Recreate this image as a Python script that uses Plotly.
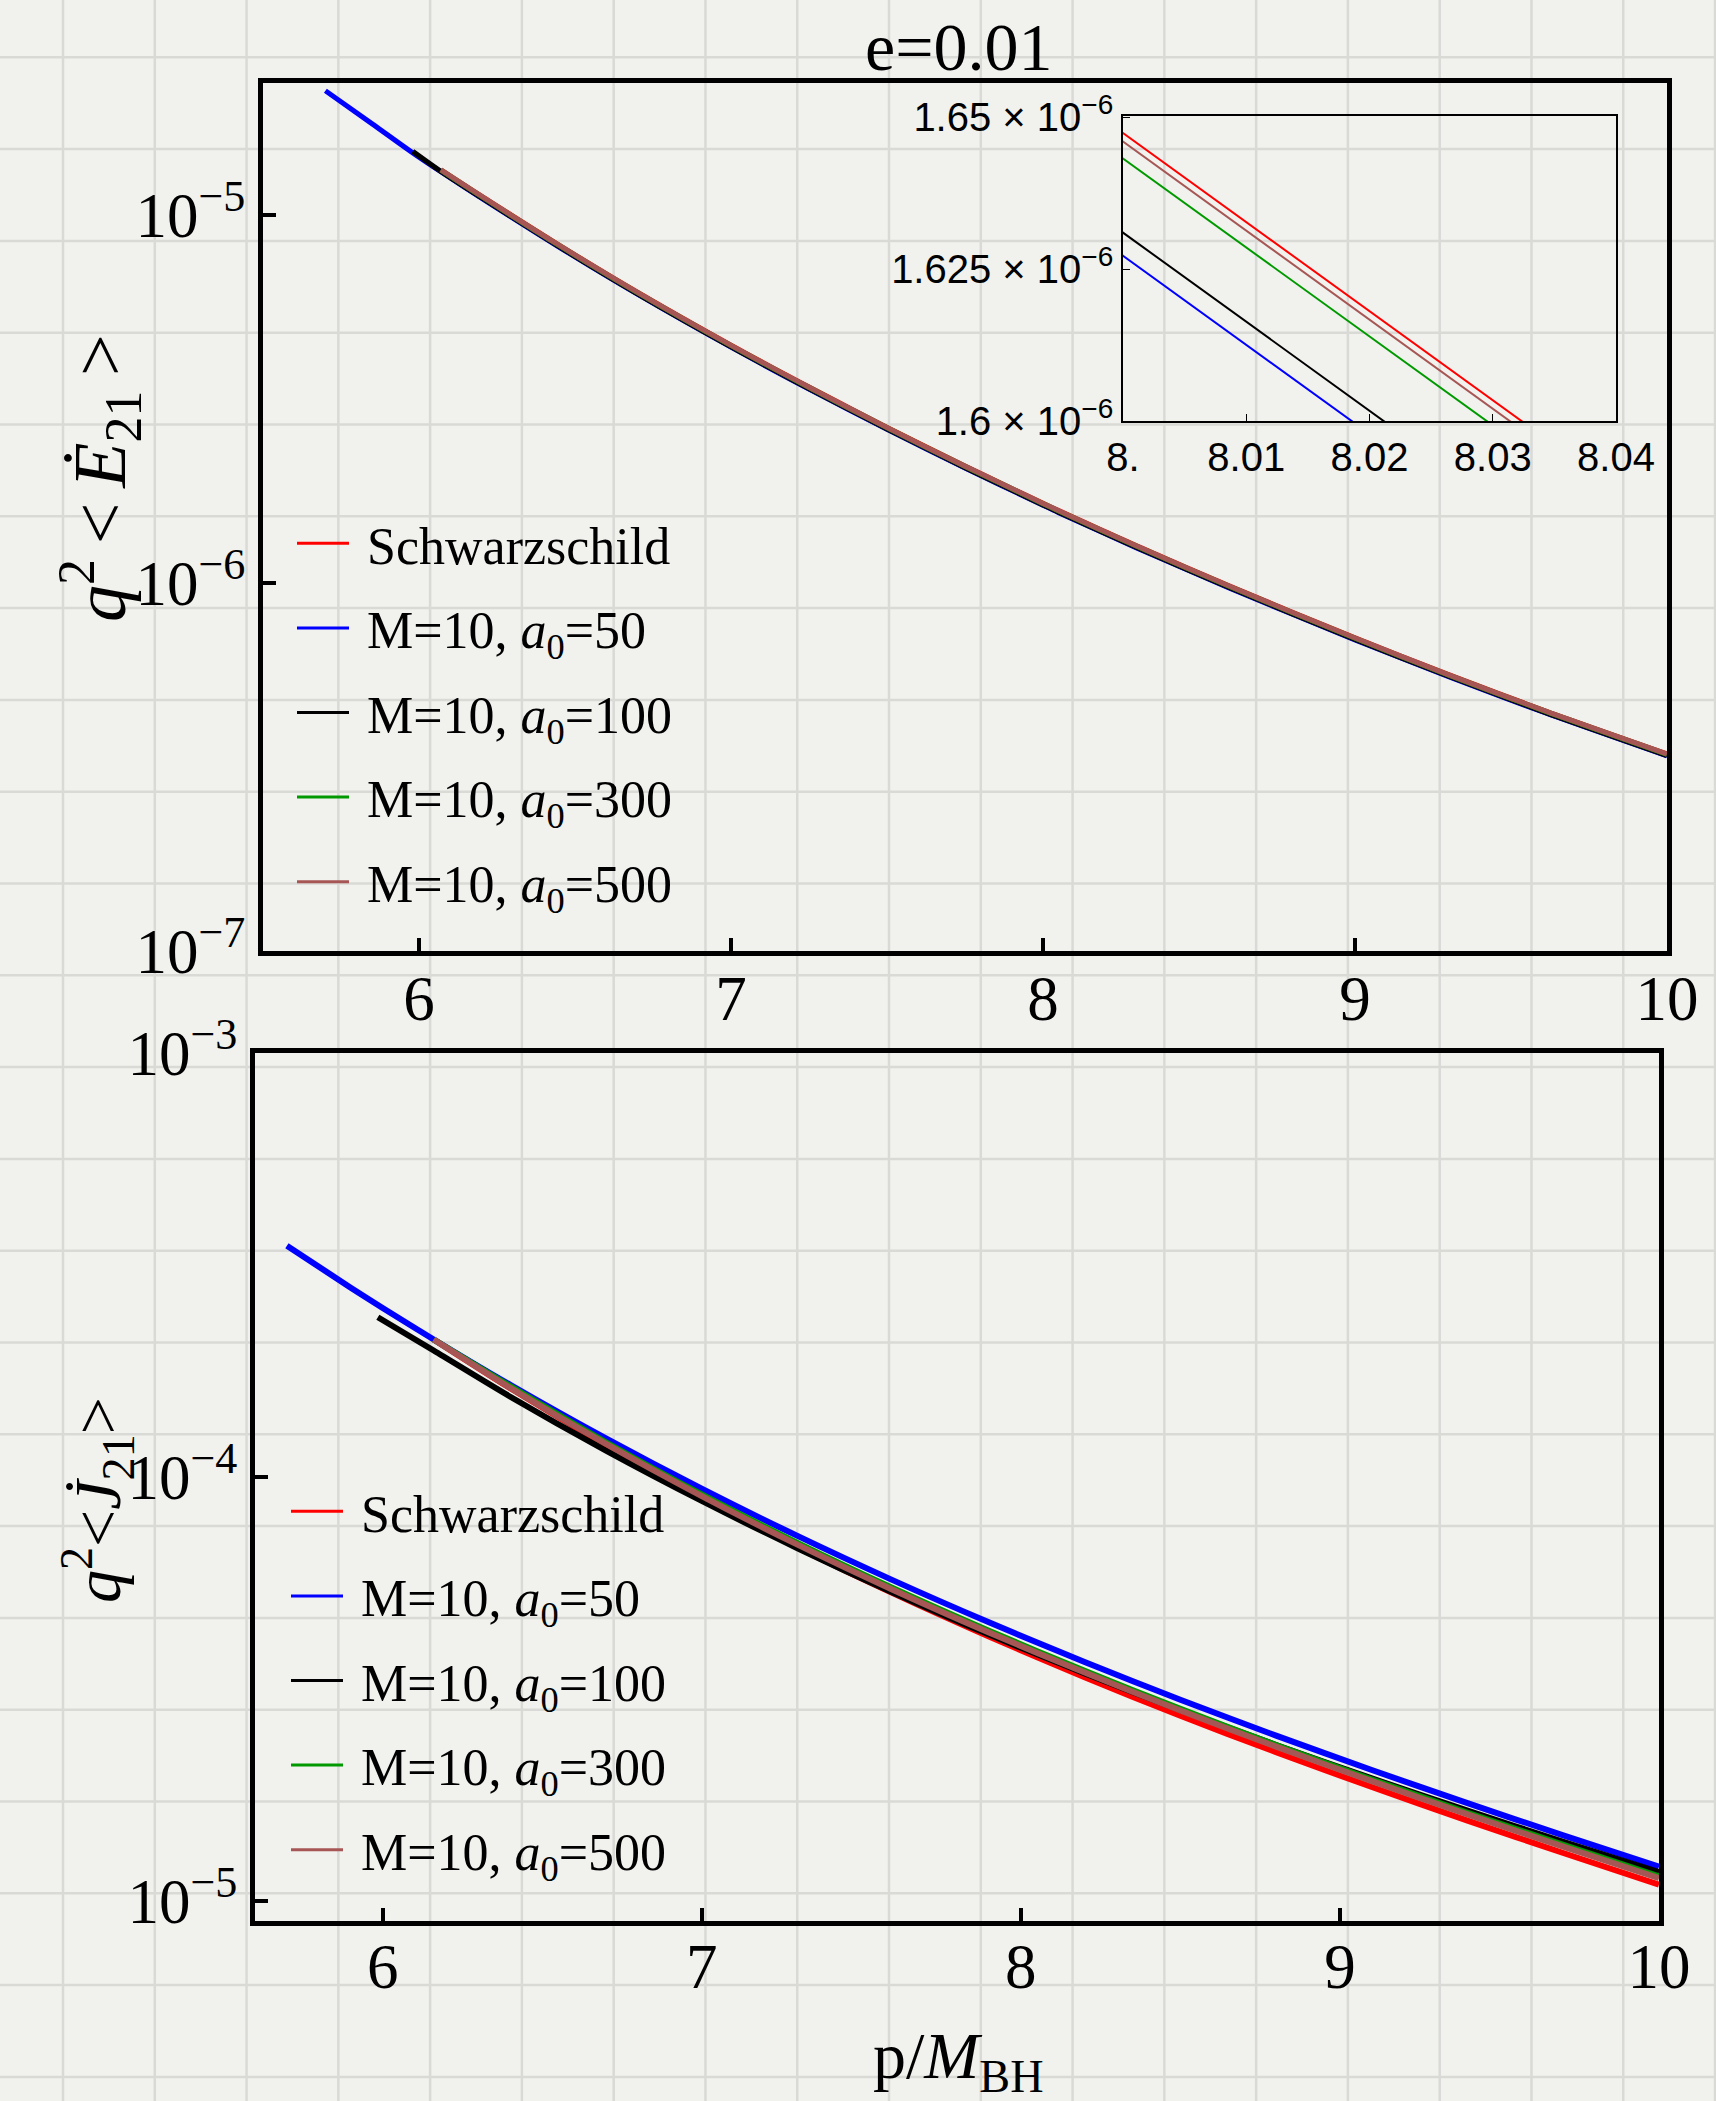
import plotly.graph_objects as go

W, H = 1716, 2101

# ---------------- data: top panel  q^2 <E_21> ----------------
P_TOP_BLUE = [5.70, 5.85, 5.98, 6.07, 6.2, 6.45, 6.7, 7.0, 7.25, 7.5, 7.75, 8.0, 8.05, 8.3, 8.6, 9.0, 9.3, 9.6, 10.0]
P_TOP_BLACK = [5.98, 6.07, 6.2, 6.45, 6.7, 7.0, 7.25, 7.5, 7.75, 8.0, 8.05, 8.3, 8.6, 9.0, 9.3, 9.6, 10.0]
P_TOP_REST = [6.07, 6.2, 6.45, 6.7, 7.0, 7.25, 7.5, 7.75, 8.0, 8.05, 8.3, 8.6, 9.0, 9.3, 9.6, 10.0]

E_SCHW = [1.3278e-5, 1.1262e-5, 8.277e-6, 6.172e-6, 4.430e-6, 3.409e-6, 2.649e-6, 2.080e-6,
          1.6474e-6, 1.5741e-6, 1.2618e-6, 9.793e-7, 7.095e-7, 5.636e-7, 4.524e-7, 3.432e-7]
E_A50 = [2.178e-5, 1.770e-5, 1.476e-5, 1.3116e-5, 1.1126e-5, 8.176e-6, 6.097e-6, 4.376e-6, 3.367e-6,
         2.617e-6, 2.055e-6, 1.6272e-6, 1.5539e-6, 1.2464e-6, 9.673e-7, 7.008e-7, 5.567e-7, 4.469e-7, 3.390e-7]
E_A100 = [1.490e-5, 1.3145e-5, 1.1150e-5, 8.194e-6, 6.110e-6, 4.386e-6, 3.375e-6, 2.623e-6, 2.059e-6,
          1.6310e-6, 1.5577e-6, 1.2492e-6, 9.695e-7, 7.024e-7, 5.580e-7, 4.479e-7, 3.398e-7]
E_A300 = [1.3245e-5, 1.1235e-5, 8.256e-6, 6.156e-6, 4.419e-6, 3.400e-6, 2.642e-6, 2.075e-6,
          1.6432e-6, 1.5700e-6, 1.2586e-6, 9.769e-7, 7.077e-7, 5.622e-7, 4.513e-7, 3.423e-7]
E_A500 = [1.3267e-5, 1.1254e-5, 8.270e-6, 6.167e-6, 4.426e-6, 3.406e-6, 2.647e-6, 2.078e-6,
          1.6460e-6, 1.5727e-6, 1.2608e-6, 9.785e-7, 7.089e-7, 5.631e-7, 4.520e-7, 3.429e-7]

# ---------------- data: bottom panel  q^2 <J_21> ----------------
P_BOT_BLUE = [5.70, 5.9, 6.0, 6.16, 6.4, 6.7, 7.0, 7.3, 7.6, 7.9, 8.2, 8.5, 8.8, 9.1, 9.4, 9.7, 10.0]
P_BOT_BLACK = [5.985, 6.16, 6.4, 6.7, 7.0, 7.3, 7.6, 7.9, 8.2, 8.5, 8.8, 9.1, 9.4, 9.7, 10.0]
P_BOT_REST = [6.16, 6.4, 6.7, 7.0, 7.3, 7.6, 7.9, 8.2, 8.5, 8.8, 9.1, 9.4, 9.7, 10.0]

J_SCHW = [2.111e-4, 1.6196e-4, 1.1893e-4, 8.922e-5, 6.827e-5, 5.316e-5, 4.205e-5, 3.371e-5,
          2.736e-5, 2.2443e-5, 1.8574e-5, 1.5483e-5, 1.2985e-5, 1.0937e-5]
J_A50 = [3.511e-4, 2.796e-4, 2.505e-4, 2.111e-4, 1.650e-4, 1.2335e-4, 9.389e-5, 7.264e-5, 5.706e-5,
         4.544e-5, 3.662e-5, 2.985e-5, 2.456e-5, 2.0375e-5, 1.7017e-5, 1.4292e-5, 1.2053e-5]
J_A100 = [2.381e-4, 1.9878e-4, 1.5467e-4, 1.1541e-4, 8.782e-5, 6.795e-5, 5.337e-5, 4.250e-5,
          3.4435e-5, 2.8216e-5, 2.334e-5, 1.9467e-5, 1.6345e-5, 1.3801e-5, 1.1697e-5]
J_A300 = [2.111e-4, 1.6383e-4, 1.2078e-4, 9.100e-5, 6.994e-5, 5.467e-5, 4.340e-5, 3.490e-5,
          2.8402e-5, 2.3345e-5, 1.9355e-5, 1.6157e-5, 1.3565e-5, 1.1437e-5]
J_A500 = [2.111e-4, 1.6233e-4, 1.1967e-4, 9.017e-5, 6.929e-5, 5.417e-5, 4.300e-5, 3.458e-5,
          2.8142e-5, 2.3132e-5, 1.9177e-5, 1.6009e-5, 1.3441e-5, 1.1332e-5]

LABELS = ["Schwarzschild",
          "M=10, <i>a</i><sub>0</sub>=50",
          "M=10, <i>a</i><sub>0</sub>=100",
          "M=10, <i>a</i><sub>0</sub>=300",
          "M=10, <i>a</i><sub>0</sub>=500"]
COLORS = ["#ff0000", "#0000ff", "#000000", "#009a00", "#a65654"]

X_TICKS = [6, 7, 8, 9, 10]
TOP_YTICKS = [1e-7, 1e-6, 1e-5]
TOP_YTEXT = ["10<sup>−7</sup>", "10<sup>−6</sup>", "10<sup>−5</sup>"]
BOT_YTICKS = [1e-5, 1e-4, 1e-3]
BOT_YTEXT = ["10<sup>−5</sup>", "10<sup>−4</sup>", "10<sup>−3</sup>"]
INS_XTICKS = [8.0, 8.01, 8.02, 8.03, 8.04]
INS_XTEXT = ["8.", "8.01", "8.02", "8.03", "8.04"]
INS_YTICKS = [1.6e-6, 1.625e-6, 1.65e-6]
INS_YTEXT = ["1.6 × 10<sup>−6</sup>", "1.625 × 10<sup>−6</sup>", "1.65 × 10<sup>−6</sup>"]

# ---------------- layout helpers (pixel boxes) ----------------
def xdom(x0, x1):
    return [x0 / W, x1 / W]

def ydom(y0, y1):  # y0 top pixel, y1 bottom pixel
    return [1 - y1 / H, 1 - y0 / H]

SERIF = "Liberation Serif"
SANS = "Liberation Sans"
BG = "#f1f1ee"
GRID = "#d9d9d6"
NB = "\u00a0"
TS = "\u2009"

top_series = [(P_TOP_REST, E_SCHW), (P_TOP_BLUE, E_A50), (P_TOP_BLACK, E_A100),
              (P_TOP_REST, E_A300), (P_TOP_REST, E_A500)]
bot_series = [(P_BOT_REST, J_SCHW), (P_BOT_BLUE, J_A50), (P_BOT_BLACK, J_A100),
              (P_BOT_REST, J_A300), (P_BOT_REST, J_A500)]

fig = go.Figure()
for i, (xs, ys) in enumerate(top_series):
    fig.add_trace(go.Scatter(x=xs, y=ys, mode="lines", showlegend=False,
                             line=dict(color=COLORS[i], width=5, shape="spline", smoothing=0.8),
                             xaxis="x", yaxis="y"))
for i, (xs, ys) in enumerate(bot_series):
    fig.add_trace(go.Scatter(x=xs, y=ys, mode="lines", showlegend=False,
                             line=dict(color=COLORS[i], width=6, shape="spline", smoothing=0.8),
                             xaxis="x2", yaxis="y2"))
for i, (xs, ys) in enumerate(top_series):
    fig.add_trace(go.Scatter(x=xs, y=ys, mode="lines", showlegend=False,
                             line=dict(color=COLORS[i], width=2),
                             xaxis="x3", yaxis="y3"))
# legend entries (thin line samples as in the reference)
for i in range(5):
    fig.add_trace(go.Scatter(x=[None], y=[None], mode="lines", name=NB + LABELS[i],
                             line=dict(color=COLORS[i], width=3),
                             xaxis="x", yaxis="y", legend="legend", legendgroup="t%d" % i))
for i in range(5):
    fig.add_trace(go.Scatter(x=[None], y=[None], mode="lines", name=NB + LABELS[i],
                             line=dict(color=COLORS[i], width=3),
                             xaxis="x2", yaxis="y2", legend="legend2", legendgroup="b%d" % i))

# paper grid background
shapes = []
k = 0
while 63 + k * 91.78 < W:
    X = 63 + k * 91.78
    shapes.append(dict(type="line", xref="paper", yref="paper", x0=X / W, x1=X / W, y0=0, y1=1,
                       line=dict(color=GRID, width=2.5), layer="below"))
    k += 1
k = 0
while 57.3 + k * 91.8 < H:
    Y = 57.3 + k * 91.8
    shapes.append(dict(type="line", xref="paper", yref="paper", x0=0, x1=1, y0=1 - Y / H, y1=1 - Y / H,
                       line=dict(color=GRID, width=2.5), layer="below"))
    k += 1

main_axis = dict(showline=True, mirror=True, linecolor="black", linewidth=5,
                 ticks="inside", ticklen=13, tickwidth=4, tickcolor="black",
                 showgrid=False, zeroline=False, automargin=False,
                 tickfont=dict(family=SERIF, size=63, color="black"))
inset_axis = dict(showline=True, mirror=True, linecolor="black", linewidth=1.5,
                  ticks="inside", ticklen=7, tickwidth=1.2, tickcolor="black",
                  showgrid=False, zeroline=False, automargin=False,
                  tickfont=dict(family=SANS, size=40, color="black"))
legend_style = dict(xanchor="left", yanchor="top", bgcolor="rgba(0,0,0,0)",
                    tracegroupgap=14, itemwidth=52,
                    font=dict(family=SERIF, size=52, color="black"))

fig.update_layout(
    template="none",
    width=W, height=H, autosize=False,
    margin=dict(l=0, r=0, t=0, b=0, pad=0, autoexpand=False),
    paper_bgcolor=BG, plot_bgcolor="rgba(0,0,0,0)",
    showlegend=True,
    shapes=shapes,
    xaxis=dict(domain=xdom(263, 1667), range=[5.5, 10], anchor="y",
               tickvals=X_TICKS, ticklabelstandoff=-12, **main_axis),
    yaxis=dict(domain=ydom(83, 951), type="log", range=[-7, -4.641], anchor="x",
               tickvals=TOP_YTICKS, ticktext=TOP_YTEXT, **main_axis),
    xaxis2=dict(domain=xdom(255, 1659), range=[5.6, 10], anchor="y2",
                tickvals=X_TICKS, ticklabelstandoff=-14, **main_axis),
    yaxis2=dict(domain=ydom(1053, 1921), type="log", range=[-5.047, -3], anchor="x2",
                tickvals=BOT_YTICKS, ticktext=BOT_YTEXT, **main_axis),
    xaxis3=dict(domain=xdom(1123, 1616), range=[8.0, 8.04], anchor="y3",
                tickvals=INS_XTICKS, ticktext=INS_XTEXT, **inset_axis),
    yaxis3=dict(domain=ydom(116, 421), range=[1.6e-6, 1.6502e-6], anchor="x3",
                tickvals=INS_YTICKS, ticktext=INS_YTEXT, **inset_axis),
    legend=dict(x=292 / W, y=1 - 503 / H, **legend_style),
    legend2=dict(x=286 / W, y=1 - 1471 / H, **legend_style),
    annotations=[
        dict(text="e=0.01", x=959 / W, y=1 - 47 / H, xref="paper", yref="paper",
             showarrow=False, xanchor="center", yanchor="middle",
             font=dict(family=SERIF, size=68, color="black")),
        dict(text="<i>q</i><sup>2</sup>" + TS + "&lt;" + TS + "<i>Ė</i><sub>21</sub>" + TS + "&gt;",
             x=100 / W, y=1 - 478 / H,
             xref="paper", yref="paper", showarrow=False, textangle=-90,
             xanchor="center", yanchor="middle",
             font=dict(family=SERIF, size=74, color="black")),
        dict(text="<i>q</i><sup>2</sup>&lt;<i>J̇</i><sub>21</sub>&gt;", x=97 / W, y=1 - 1500 / H,
             xref="paper", yref="paper", showarrow=False, textangle=-90,
             xanchor="center", yanchor="middle",
             font=dict(family=SERIF, size=66, color="black")),
        dict(text="p/<i>M</i><sub>BH</sub>", x=958 / W, y=1 - 2060 / H,
             xref="paper", yref="paper", showarrow=False,
             xanchor="center", yanchor="middle",
             font=dict(family=SERIF, size=66, color="black")),
    ],
)

fig.write_html("out.html")
